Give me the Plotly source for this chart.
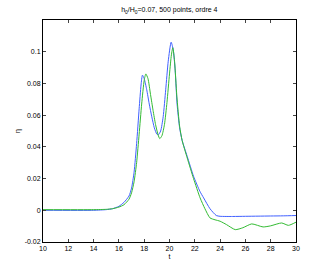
import plotly.graph_objects as go

t_blue = [10, 14, 15, 15.5, 16, 16.4, 16.8, 17.0, 17.2, 17.4, 17.6, 17.75, 17.86, 18.0, 18.2, 18.4, 18.6, 18.8, 19.0, 19.12, 19.3, 19.5, 19.7, 19.9, 20.13, 20.3, 20.45, 20.6, 20.8, 21.0, 21.4, 21.9, 22.4, 22.7, 23.2, 23.7, 24.0, 25, 26, 27, 28, 29, 30]
eta_blue = [0, 0, 0.0004, 0.001, 0.0025, 0.005, 0.009, 0.014, 0.024, 0.042, 0.064, 0.079, 0.0852, 0.083, 0.076, 0.067, 0.059, 0.052, 0.048, 0.0476, 0.05, 0.059, 0.076, 0.094, 0.106, 0.101, 0.088, 0.067, 0.052, 0.044, 0.034, 0.0215, 0.012, 0.0078, 0.001, -0.0033, -0.0038, -0.0039, -0.0038, -0.0037, -0.0036, -0.0035, -0.0033]

t_green = [10, 14, 15, 15.5, 16, 16.4, 16.8, 17.0, 17.2, 17.4, 17.6, 17.8, 18.0, 18.13, 18.3, 18.5, 18.7, 18.9, 19.1, 19.23, 19.4, 19.6, 19.8, 20.0, 20.15, 20.26, 20.4, 20.58, 20.8, 21.0, 21.4, 21.9, 22.42, 22.8, 23.2, 23.6, 24.0, 24.5, 25.2, 25.8, 26.5, 27.4, 28.0, 28.86, 29.4, 30]
eta_green = [0.0004, 0.0004, 0.0006, 0.001, 0.002, 0.0035, 0.007, 0.011, 0.018, 0.03, 0.048, 0.067, 0.082, 0.086, 0.083, 0.073, 0.063, 0.054, 0.0475, 0.0452, 0.047, 0.054, 0.068, 0.086, 0.098, 0.1025, 0.094, 0.072, 0.053, 0.044, 0.033, 0.02, 0.0078, 0.001, -0.0048, -0.006, -0.0069, -0.009, -0.0122, -0.011, -0.0086, -0.0105, -0.0098, -0.008, -0.0095, -0.0075]

x_ticks = [10, 12, 14, 16, 18, 20, 22, 24, 26, 28, 30]
y_ticks = [-0.02, 0, 0.02, 0.04, 0.06, 0.08, 0.1]
y_tick_text = ["-0.02", "0", "0.02", "0.04", "0.06", "0.08", "0.1"]

fig = go.Figure()
fig.add_trace(go.Scatter(x=t_blue, y=eta_blue, mode="lines",
                         line=dict(color="#4060ff", width=1, shape="spline", smoothing=0.6)))
fig.add_trace(go.Scatter(x=t_green, y=eta_green, mode="lines",
                         line=dict(color="#33bb33", width=1, shape="spline", smoothing=0.6)))

font = dict(family="Liberation Sans, Arial, sans-serif", size=7, color="black")
fig.update_layout(
    width=327, height=273,
    margin=dict(l=43, r=31, t=20, b=31),
    paper_bgcolor="white", plot_bgcolor="white",
    showlegend=False,
    font=font,
    title=dict(text="h<sub>0</sub>/H<sub>0</sub>=0.07, 500 points, ordre 4",
               x=(42.7 + 296) / 2 / 327, xanchor="center", y=1 - 10 / 273, yanchor="middle",
               font=dict(family="Liberation Sans, Arial, sans-serif", size=7)),
    xaxis=dict(range=[10, 30], tickvals=x_ticks, ticks="inside", ticklen=3,
               showline=True, linecolor="black", linewidth=1, mirror="ticks",
               showgrid=False, zeroline=False, tickfont=font, automargin=False,
               title=dict(text="t", font=font, standoff=2)),
    yaxis=dict(range=[-0.02, 0.12], tickvals=y_ticks, ticktext=y_tick_text,
               ticks="inside", ticklen=3,
               showline=True, linecolor="black", linewidth=1, mirror="ticks",
               showgrid=False, zeroline=False, tickfont=font, automargin=False),
    annotations=[dict(text="η", xref="paper", yref="paper", x=(18 - 43) / 253, y=0.5,
                      xanchor="center", yanchor="middle", showarrow=False, textangle=-90,
                      font=font)],
)

fig.write_html("out.html", config={"displayModeBar": False},
               post_script="document.body.style.margin='0';")
